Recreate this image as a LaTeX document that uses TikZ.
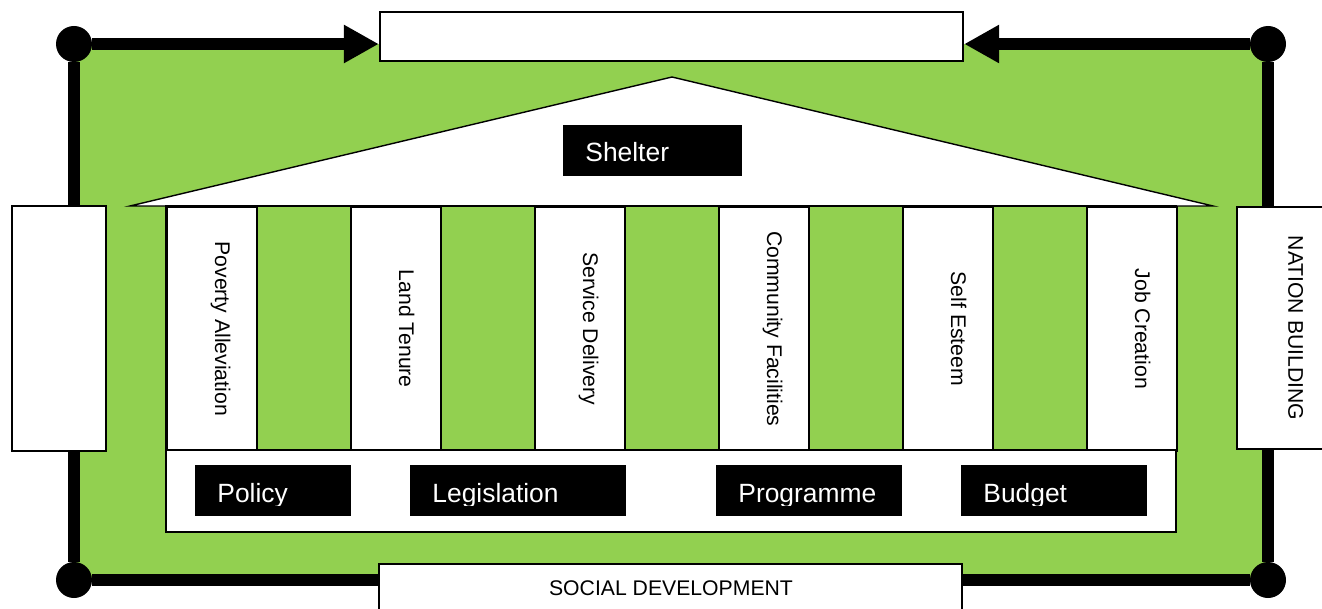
\documentclass[tikz,border=0pt]{standalone}
\usepackage{fontspec}
\setmainfont{Liberation Sans}
\usetikzlibrary{arrows.meta}
\definecolor{leaf}{HTML}{92D050}

\begin{document}
\begin{tikzpicture}[x = 0.5pt, y = -0.5pt,
    rail/.style = {line width = 5.85pt},
    dot/.style = {circle, fill = black, inner sep = 0pt, minimum size = 18pt},
    frame/.style = {draw, fill = white, line width = 1.2pt, inner sep = 0pt},
    tag/.style = {fill = black, inner sep = 0pt, minimum height = 25.5pt, anchor = north west},
    tagtext/.style = {text = white, inner sep = 0pt, anchor = base west, font = \fontsize{13.2}{15}\selectfont},
    pillar/.style = {draw, fill = white, line width = 0.8pt, inner sep = 0pt, minimum width = 45pt, minimum height = 122pt, anchor = north west},
    small/.style = {inner sep = 0pt, font = \fontsize{10.6}{12}\selectfont, text height = 7.6pt, text depth = 0pt}]
    \useasboundingbox (0,0) rectangle (1322,609);
    % green ground and the rails round it
    \fill[leaf] (74,44) rectangle (1268,580);
    \node[dot] (tl) at (74,44) {};
    \node[dot] (tr) at (1268,44) {};
    \node[dot] (bl) at (74,580) {};
    \node[dot] (br) at (1268,580) {};
    \draw[rail] (tl) -- (bl);
    \draw[rail] (bl) -- (br);
    \draw[rail] (tr) -- (br);
    % roof
    \draw[fill = white, line width = 0.7pt] (130,206) -- (672,77) -- (1213,206) -- cycle;
    % pillars
    \draw[fill = leaf, line width = 1pt] (166,206) rectangle (1176,450);
    \foreach \txt [count = \i] in {Poverty Alleviation, Land Tenure, Service Delivery, Community Facilities, Self Esteem, Job Creation} {
        \node[pillar] (col\i) at ({166 + 184*(\i - 1)}, 206) {};
        \node[small, rotate = -90] (txt\i) at ([xshift = 5.5pt]col\i.center) {\txt};
    }
    % base
    \draw[fill = white, line width = 1pt] (166,450) rectangle (1176,532);
    % black tags
    \foreach \x/\y/\w/\name/\txt in {563/125/89.5/shelter/Shelter, 195/465/78/policy/Policy, 410/465/108/legis/Legislation, 716/465/93/progr/Programme, 961/465/93/budget/Budget} {
        \node[tag, minimum width = \w pt] (\name) at (\x,\y) {};
        \begin{scope}
            \clip (\name.north west) rectangle ([yshift = -20pt]\name.north east);
            \node[tagtext] (\name txt) at ([xshift = 11pt, yshift = -18.5pt]\name.north west) {\txt};
        \end{scope}
    }
    % side, bottom and top boxes
    \node[frame, minimum width = 47pt, minimum height = 122.5pt] (leftbox) at (59,328.5) {};
    \node[frame, minimum width = 46.5pt, minimum height = 121pt] (rightbox) at (1283.5,328) {};
    \node[small, rotate = -90] (nation) at (1296,328) {NATION BUILDING};
    \node[frame, minimum width = 291.5pt, minimum height = 24.5pt] (botbox) at (670.5,588.5) {};
    \node[small] (social) at (671,588) {SOCIAL DEVELOPMENT};
    \node[frame, minimum width = 291.5pt, minimum height = 24.5pt] (topbox) at (671.5,36.5) {};
    % arrows into the top box
    \draw[rail, -{Triangle[length = 17.5pt, width = 18pt]}] (tl) -- (topbox.west |- tl);
    \draw[rail, -{Triangle[length = 17.5pt, width = 18pt]}] (tr) -- (topbox.east |- tr);
\end{tikzpicture}
\end{document}
